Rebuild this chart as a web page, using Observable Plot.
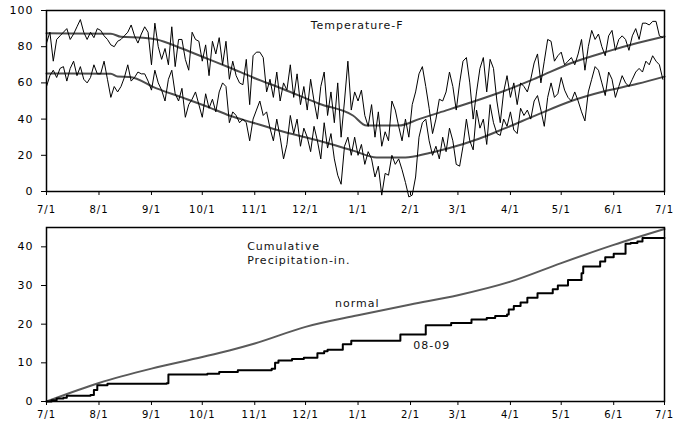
<!DOCTYPE html>
<html>
<head>
<meta charset="utf-8">
<script src="https://cdn.jsdelivr.net/npm/d3@7"></script>
<script src="https://cdn.jsdelivr.net/npm/@observablehq/plot@0.6"></script>
<style>
  body { margin: 0; background: #fff; }
  #chart { width: 673px; }
  #chart svg { display: block; }
</style>
</head>
<body>
<div id="chart"></div>
<script>
// Season covered by both panels
const seasonStart = "2008-07-01";
const seasonEnd = "2009-07-01";

// Daily temperatures (°F), one reading every other day from 7/1
const sampleStepDays = 2;
const highF = [
  82, 88, 72, 84, 86, 88, 90, 84, 87, 91, 95, 88, 84, 88, 85, 90, 89, 86, 84, 81, 80, 83, 84, 86, 88, 92, 86, 82, 87, 91, 88,
  70, 93, 80, 73, 79, 70, 91, 69, 84, 84, 73, 67, 88, 84, 83, 72, 81, 64, 83, 76, 85, 70, 83, 62, 72, 64, 60, 59, 73, 48,
  75, 77, 77, 74, 55, 62, 52, 66, 50, 60, 56, 70, 52, 65, 48, 58, 45, 62, 50, 40, 58, 66, 42, 55, 38, 60, 30, 50, 72, 45,
  55, 50, 56, 42, 36, 48, 30, 44, 25, 33, 28, 50, 45, 36, 28, 40, 30, 48, 55, 65, 69, 58, 46, 32, 40, 51, 50, 55, 66, 58,
  45, 60, 72, 74, 60, 40, 55, 68, 74, 55, 73, 68, 50, 38, 55, 64, 52, 60, 48, 60, 58, 55, 62, 71, 76, 60, 72, 84, 83, 72,
  75, 77, 70, 72, 74, 70, 76, 84, 67, 80, 89, 84, 87, 80, 75, 86, 89, 78, 84, 86, 84, 78, 86, 90, 84, 93, 93, 92, 94, 94, 86, 85
];
const lowF = [
  58, 64, 67, 63, 68, 69, 61, 68, 72, 64, 69, 62, 60, 63, 70, 65, 65, 72, 62, 52, 58, 55, 58, 63, 70, 61, 63, 66, 65, 65, 61,
  56, 67, 60, 56, 50, 62, 67, 54, 50, 57, 41, 48, 51, 55, 48, 41, 54, 46, 51, 44, 55, 60, 58, 38, 44, 42, 38, 40, 38, 28,
  40, 45, 50, 42, 44, 35, 28, 40, 30, 18, 26, 42, 32, 40, 25, 35, 30, 22, 36, 28, 18, 38, 24, 32, 18, 9, 4, 25, 30, 20,
  30, 20, 26, 15, 22, 18, 8, 14, -2, 10, 9, 20, 15, 18, 12, 5, -3, -2, 8, 30, 38, 40, 28, 20, 25, 18, 30, 22, 35, 28,
  15, 14, 25, 40, 28, 23, 45, 35, 40, 26, 48, 38, 32, 31, 40, 36, 44, 34, 32, 46, 42, 45, 40, 50, 53, 45, 36, 52, 60, 52,
  54, 63, 56, 52, 50, 55, 50, 44, 39, 55, 62, 69, 67, 60, 53, 66, 62, 52, 58, 64, 60, 58, 62, 66, 68, 66, 72, 70, 75, 72, 70, 62
];

// Normal high / low (°F), given at days after 7/1
const normalHighDays = [0, 38, 44, 57, 65, 80, 96, 108, 122, 140, 161, 181, 189, 208, 220, 232, 250, 271, 290, 310, 330, 349, 365];
const normalHighF   = [87.4, 87.2, 85.5, 85, 84, 79, 73, 68.5, 63, 56.5, 48.5, 42, 36.4, 36.4, 40, 43.6, 49, 55.8, 63, 71, 77, 82, 85.6];
const normalLowDays = [0, 38, 42, 49, 65, 80, 96, 108, 122, 140, 161, 181, 195, 212, 225, 238, 255, 271, 290, 310, 330, 349, 365];
const normalLowF    = [65.2, 65, 63.5, 63.3, 57, 52, 46.5, 42, 38, 33, 28, 22.6, 18.8, 18.8, 21, 24, 29, 35, 42.5, 50, 55.5, 59.5, 63.5];

// Cumulative precipitation (in.), normal and the 2008-09 season
const precipNormalDays = [0, 31, 62, 92, 108, 123, 153, 184, 215, 243, 274, 304, 335, 365];
const precipNormalIn   = [0, 4.8, 8.5, 11.5, 13.2, 15, 19.3, 22.3, 25.1, 27.5, 31, 35.8, 40.5, 44.6];
const precip0809Days = [0, 3, 6, 10, 12, 26, 28, 30, 36, 71, 72, 95, 102, 113, 133, 135, 137, 145, 152, 160, 164, 166, 175, 180,
  209, 224, 239, 251, 260, 265, 272, 273, 276, 280, 284, 290, 299, 302, 308, 316, 317, 327, 330, 335, 342, 345, 349, 352, 365];
const precip0809In   = [0, 0.3, 0.8, 1.0, 1.5, 1.7, 3.0, 4.2, 4.6, 4.7, 7.0, 7.2, 7.6, 8.05, 8.5, 10.0, 10.6, 11.0, 11.3, 12.5, 13.0, 13.4, 14.8, 15.7,
  17.3, 19.7, 20.3, 21.2, 21.6, 22.1, 22.5, 23.8, 24.7, 25.6, 26.8, 28.0, 29.0, 30.0, 31.4, 33.2, 34.9, 36.2, 37.3, 38.2, 40.8, 41.0, 41.4, 42.3, 42.3];

// Axis ticks
const tempTicks = [0, 20, 40, 60, 80, 100];
const precipTicks = [0, 10, 20, 30, 40];

// Panel labels: text, day after 7/1, value
const tempLabels = [{text: "Temperature-F", day: 156, value: 91.8}];
const precipLabels = [
  {text: "Cumulative\nPrecipitation-in.", day: 118.5, value: 38.6},
  {text: "normal", day: 170.4, value: 25.7},
  {text: "08-09", day: 216.6, value: 14.7}
];

// ---- build tables ----
const t0 = new Date(seasonStart + "T00:00:00Z");
const t1 = new Date(seasonEnd + "T00:00:00Z");
const at = d => new Date(+t0 + d * 864e5);
const daily = highF.map((h, i) => ({date: at(i * sampleStepDays), high: h, low: lowF[i]}));
const series = (days, vals) => days.map((d, i) => ({date: at(d), value: vals[i]}));
const nHigh = series(normalHighDays, normalHighF);
const nLow = series(normalLowDays, normalLowF);
const pNormal = series(precipNormalDays, precipNormalIn);
const p0809 = series(precip0809Days, precip0809In);
const lbl = arr => arr.map(l => ({...l, date: at(l.day)}));

const monthTicks = d3.utcMonth.range(t0, new Date(+t1 + 864e5));
const fmt = d => `${d.getUTCMonth() + 1}/${d.getUTCDate()}`;

const baseStyle = {
  fontFamily: "'DejaVu Sans', sans-serif",
  fontSize: "11px",
  letterSpacing: "1px",
  color: "#000",
  background: "#fff",
  overflow: "visible"
};

const temp = Plot.plot({
  width: 673, height: 218,
  marginTop: 10, marginBottom: 27, marginLeft: 46, marginRight: 9,
  style: baseStyle,
  x: {type: "utc", domain: [t0, t1]},
  y: {domain: [0, 100]},
  marks: [
    Plot.line(nHigh, {x: "date", y: "value", stroke: "#4d4d4d", strokeWidth: 2, curve: "monotone-x"}),
    Plot.line(nLow, {x: "date", y: "value", stroke: "#4d4d4d", strokeWidth: 2, curve: "monotone-x"}),
    Plot.line(daily, {x: "date", y: "high", stroke: "#000", strokeWidth: 1}),
    Plot.line(daily, {x: "date", y: "low", stroke: "#000", strokeWidth: 1}),
    Plot.axisX({ticks: monthTicks, tickFormat: fmt, tickSize: 4, tickPadding: 10, fontSize: 10, label: null}),
    Plot.axisY({ticks: tempTicks, tickSize: 5, tickPadding: 8, label: null}),
    Plot.frame({stroke: "#000", strokeWidth: 1.5}),
    Plot.text(lbl(tempLabels), {x: "date", y: "value", text: "text", textAnchor: "start", lineAnchor: "middle", fill: "#111", fontSize: 11})
  ]
});

const precip = Plot.plot({
  width: 673, height: 208,
  marginTop: 9, marginBottom: 25, marginLeft: 46, marginRight: 9,
  style: baseStyle,
  x: {type: "utc", domain: [t0, t1]},
  y: {domain: [0, 45]},
  marks: [
    Plot.line(pNormal, {x: "date", y: "value", stroke: "#5a5a5a", strokeWidth: 2, curve: "monotone-x"}),
    Plot.line(p0809, {x: "date", y: "value", stroke: "#000", strokeWidth: 2, curve: "step-after"}),
    Plot.axisX({ticks: monthTicks, tickFormat: fmt, tickSize: 4, tickPadding: 5, fontSize: 10, label: null}),
    Plot.axisY({ticks: precipTicks, tickSize: 5, tickPadding: 8, label: null}),
    Plot.frame({stroke: "#000", strokeWidth: 1.5}),
    Plot.text(lbl(precipLabels), {x: "date", y: "value", text: "text", textAnchor: "start", lineAnchor: "middle", lineHeight: 1.34, fill: "#111", fontSize: 11})
  ]
});

const root = document.getElementById("chart");
root.append(temp, precip);
</script>
</body>
</html>
